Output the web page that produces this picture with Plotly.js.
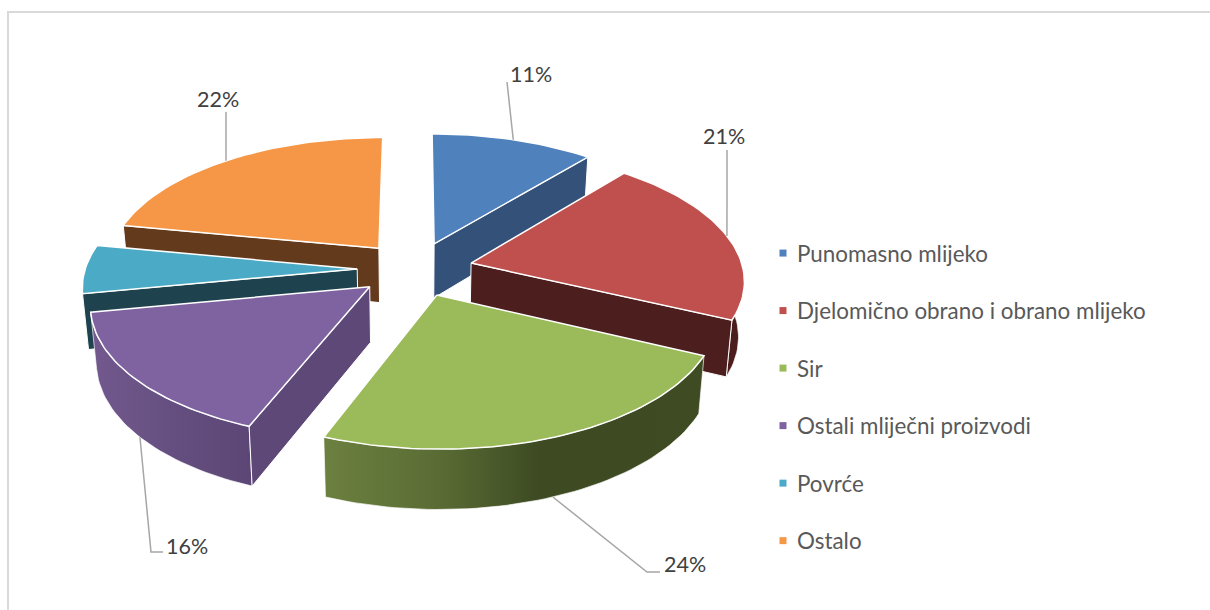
<!DOCTYPE html>
<html>
<head>
<meta charset="utf-8">
<script src="https://cdn.plot.ly/plotly-3.0.1.min.js"></script>
<style>html,body{margin:0;padding:0;background:#fff}#chart{width:1210px;height:610px}</style>
</head>
<body>
<div id="chart"></div>
<script>
// ---- data ----
const categories = ['Punomasno mlijeko','Djelomično obrano i obrano mlijeko','Sir','Ostali mliječni proizvodi','Povrće','Ostalo'];
const values = [11,21,24,16,6,22];
const showLabel = [true,true,true,true,false,true];

// ---- styles ----
const topColors  = ['#4F81BD','#BF504D','#9BBA59','#7F63A1','#4BABC6','#F59746'];
const faceColors = ['#335179','#4D1E1E','#3F4B22','#5E4877','#1F434E','#643A1C'];
const arcScales  = [
  [[0,'#335179'],[1,'#335179']],
  [[0,'#4D1E1E'],[1,'#4A1C1C']],
  [[0,'#6C8040'],[0.3,'#5A6C34'],[0.57,'#3D4A22'],[1,'#3F4B22']],
  [[0,'#73598E'],[0.5,'#654F80'],[1,'#5C4675']],
  [[0,'#1F434E'],[1,'#1F434E']],
  [[0,'#643A1C'],[1,'#643A1C']]
];
const paintOrder = [0,5,4,3,1,2];
// leader route after the rim anchor, and label centre, relative to page coordinates
const leaderRoute = [[[507,82]],[[727,150]],[[647,572],[660,572]],[[151,552],[163,552]],null,[[226,112]]];
const labelPos = [[531,74],[724,136],[685,564],[187,546],null,[218,99]];

// ---- projection of the tilted, exploded pie ----
const CX=415, CY=269, RX=272, RY=128.8, K=0.12, EXPLODE=0.2125, SHRINK=0.982;
const total = values.reduce((a,b)=>a+b,0);
const rad = d=>d*Math.PI/180;
function project(u,v,down){
  const den = 1+K*v;
  let x = RX*u/den, y = -RY*v/den;
  if(down){ x*=SHRINK; y += 55-4.5*v; }
  return [CX+x, CY+y];
}
let acc=0;
const slices = values.map(val=>{
  const a0=acc*360/total; acc+=val; const a1=acc*360/total; const mid=(a0+a1)/2;
  return {a0,a1,mid,ou:EXPLODE*Math.sin(rad(mid)),ov:EXPLODE*Math.cos(rad(mid))};
});
function rimPoint(s,deg,down){
  return project(s.ou+Math.sin(rad(deg)),s.ov+Math.cos(rad(deg)),down);
}
function arcPts(s,from,to,down){
  const n=Math.max(2,Math.ceil(Math.abs(to-from)/1.5)), pts=[];
  for(let i=0;i<=n;i++) pts.push(rimPoint(s,from+(to-from)*i/n,down));
  return pts;
}
function poly(pts,extra){
  const xs=pts.map(p=>p[0]), ys=pts.map(p=>p[1]);
  xs.push(xs[0]); ys.push(ys[0]);
  return Object.assign({type:'scatter',mode:'lines',x:xs,y:ys,fill:'toself',hoverinfo:'skip',showlegend:false},extra);
}
const traces=[];
paintOrder.forEach(i=>{
  const s=slices[i];
  // outer wall, only where it faces the viewer
  const a=Math.max(s.a0,87), b=Math.min(s.a1,273);
  if(b>a){
    const pts=arcPts(s,a,b,false).concat(arcPts(s,b,a,true));
    traces.push(poly(pts,{line:{color:'rgba(255,255,255,0.85)',width:0.8},fillcolor:faceColors[i],
      fillgradient:{type:'horizontal',colorscale:arcScales[i]}}));
  }
  // radial walls, only those facing the viewer
  [[s.a0,-1],[s.a1,1]].forEach(([deg,sign])=>{
    const nu=sign*Math.cos(rad(deg)), nv=-sign*Math.sin(rad(deg));
    const dot=nu*(0-s.ou)+nv*(-1/K-s.ov);
    if(dot>0.5){
      const pts=[project(s.ou,s.ov,false),rimPoint(s,deg,false),rimPoint(s,deg,true),project(s.ou,s.ov,true)];
      traces.push(poly(pts,{line:{color:'#ffffff',width:1},fillcolor:faceColors[i]}));
    }
  });
  // top surface
  const top=[project(s.ou,s.ov,false)].concat(arcPts(s,s.a0,s.a1,false));
  traces.push(poly(top,{name:categories[i],line:{color:'#ffffff',width:1.5},fillcolor:topColors[i]}));
});

// leader lines: start on the slice's rim at its mid angle
const annotations=[];
values.forEach((val,i)=>{
  if(!showLabel[i]) return;
  const s=slices[i];
  const front=Math.cos(rad(s.mid))<0 && (i===2||i===3);
  const start=rimPoint(s,s.mid,front);
  const route=[start].concat(leaderRoute[i]);
  traces.push({type:'scatter',mode:'lines',x:route.map(p=>p[0]),y:route.map(p=>p[1]),
    line:{color:'#A6A6A6',width:1.5},hoverinfo:'skip',showlegend:false});
  annotations.push({x:labelPos[i][0],y:labelPos[i][1],xref:'x',yref:'y',text:Math.round(val/total*100)+'%',
    showarrow:false,xanchor:'center',yanchor:'middle',font:{family:'Lato, sans-serif',size:21.5,color:'#404040'}});
});

// legend entries
categories.forEach((c,i)=>{
  traces.push({type:'scatter',mode:'markers',x:[null],y:[null],name:c,legendgroup:'g'+i,
    marker:{symbol:'square',size:7,color:topColors[i]},hoverinfo:'skip'});
});

const layout={
  width:1210,height:610,margin:{l:0,r:0,t:0,b:0},
  paper_bgcolor:'#ffffff',plot_bgcolor:'#ffffff',
  xaxis:{range:[0,1210],visible:false,fixedrange:true},
  yaxis:{range:[610,0],visible:false,fixedrange:true},
  showlegend:true,
  legend:{x:757/1210,y:1-232/610,xanchor:'left',yanchor:'top',tracegroupgap:25.4,
    font:{family:'Lato, sans-serif',size:22.4,color:'#595959'},bgcolor:'rgba(0,0,0,0)'},
  annotations:annotations,
  shapes:[
    {type:'line',xref:'paper',yref:'paper',x0:8/1210,x1:8/1210,y0:0,y1:1-11/610,line:{color:'#D9D9D9',width:2}},
    {type:'line',xref:'paper',yref:'paper',x0:7/1210,x1:1,y0:1-12/610,y1:1-12/610,line:{color:'#D9D9D9',width:2}}
  ]
};
Plotly.newPlot('chart',traces,layout,{displayModeBar:false,staticPlot:true}).then(gd=>{
  // the reference sets its legend swatches closer to the text
  gd.querySelectorAll('.legend .legendsymbols').forEach(g=>g.setAttribute('transform','translate(6,0)'));
});
</script>
</body>
</html>
